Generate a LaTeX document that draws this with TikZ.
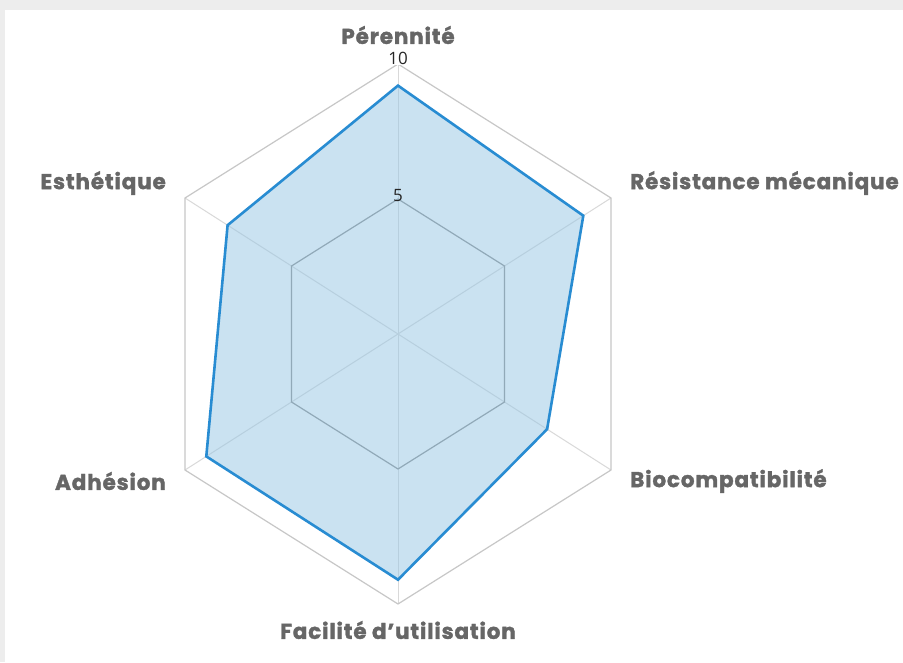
\documentclass[tikz,border=0pt]{standalone}
\usepackage{fontspec}
\usetikzlibrary{calc}
\newfontfamily\labfont{Poppins}[BoldFeatures={FakeBold=1.6,LetterSpace=4}]
\newfontfamily\numfont{Open Sans}
\begin{document}
\begin{tikzpicture}[x=1pt,y=-1pt,
  axislab/.style={font=\labfont\bfseries\fontsize{21.5}{24}\selectfont, text=black!60, inner sep=0pt},
  ticklab/.style={font=\numfont\fontsize{17}{18}\selectfont, text=black!85, inner sep=1pt},
  gridouter/.style={draw=black!22, line width=1.2pt, line join=miter},
  gridmid/.style={draw=black!45, line width=1.2pt, line join=miter},
  spoke/.style={draw=black!15, line width=1pt},
  datapoly/.style={draw={rgb,255:red,40;green,140;blue,210}, line width=2.6pt, line join=miter,
     fill={rgb,255:red,150;green,198;blue,228}, fill opacity=0.5}
]
\useasboundingbox (0,0) rectangle (903,662);
\fill[black!7] (0,0) rectangle (903,662);
\fill[white] (5,10) rectangle (903,662);
\coordinate (C) at (398,334);
% outer hexagon vertices
\coordinate (O1) at (398,64);
\coordinate (O2) at (611,198);
\coordinate (O3) at (611,470);
\coordinate (O4) at (398,604);
\coordinate (O5) at (185,470);
\coordinate (O6) at (185,198);
% mid hexagon
\foreach \i in {1,...,6} {\coordinate (M\i) at ($(C)!0.5!(O\i)$);}
% data
\coordinate (D1) at ($(C)!0.92!(O1)$);
\coordinate (D2) at ($(C)!0.87!(O2)$);
\coordinate (D3) at ($(C)!0.70!(O3)$);
\coordinate (D4) at ($(C)!0.91!(O4)$);
\coordinate (D5) at ($(C)!0.90!(O5)$);
\coordinate (D6) at ($(C)!0.80!(O6)$);
% grid
\foreach \i in {1,...,6} {\draw[spoke] (C) -- (O\i);}
\draw[gridouter] (O1) -- (O2) -- (O3) -- (O4) -- (O5) -- (O6) -- cycle;
\draw[gridmid] (M1) -- (M2) -- (M3) -- (M4) -- (M5) -- (M6) -- cycle;
% data polygon
\draw[datapoly] (D1) -- (D2) -- (D3) -- (D4) -- (D5) -- (D6) -- cycle;
% tick labels
\node[ticklab, fill=white] (t10) at (398,58) {10};
\node[ticklab] (t5) at (398,196) {5};
% axis labels
\node[axislab, anchor=center] (l1) at (398,35) {Pérennité};
\node[axislab, anchor=west] (l2) at (630,183) {Résistance mécanique};
\node[axislab, anchor=west] (l3) at (630,481) {Biocompatibilité};
\node[axislab, anchor=center] (l4) at (398,630) {Facilité d’utilisation};
\node[axislab, anchor=east] (l5) at (166,481) {Adhésion};
\node[axislab, anchor=east] (l6) at (166,183) {Esthétique};
\end{tikzpicture}
\end{document}
